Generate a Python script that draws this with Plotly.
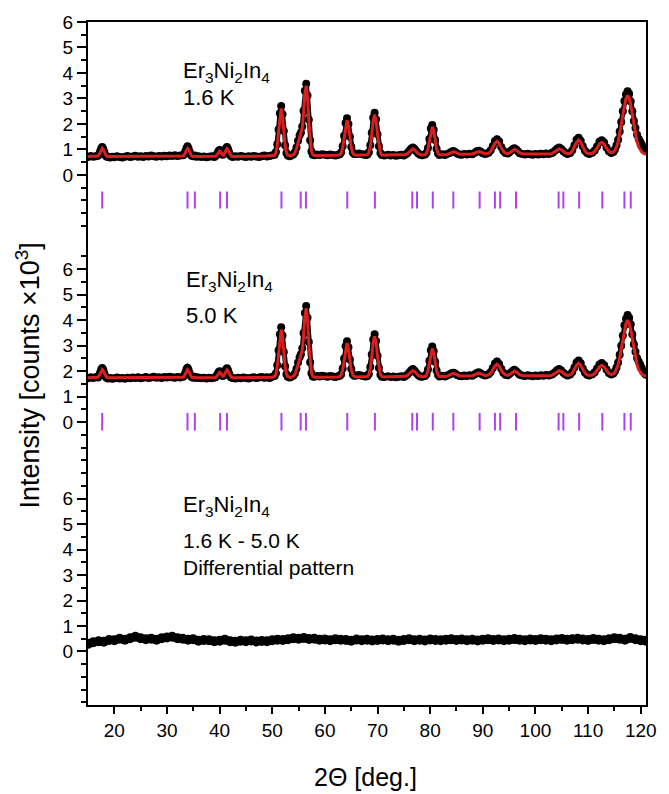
import plotly.graph_objects as go

# ---------------- data ----------------
two_theta = [
    15.0, 15.5, 16.0, 16.5, 16.9, 17.1, 17.3, 17.5, 17.7, 17.9,
    18.1, 18.3, 18.5, 18.8, 19.2, 19.6, 20.0, 20.5, 21.0, 21.5,
    22.0, 22.5, 23.0, 23.5, 24.0, 24.5, 25.0, 25.5, 26.0, 26.5,
    27.0, 27.5, 28.0, 28.5, 29.0, 29.5, 30.0, 30.5, 31.0, 31.5,
    32.0, 32.5, 33.1, 33.3, 33.5, 33.7, 33.9, 34.1, 34.3, 34.5,
    34.7, 35.0, 35.3, 35.6, 36.0, 36.5, 37.0, 37.5, 38.0, 38.5,
    39.0, 39.2, 39.4, 39.6, 39.8, 40.0, 40.2, 40.4, 40.6, 40.8,
    41.0, 41.2, 41.4, 41.6, 41.8, 42.0, 42.2, 42.5, 43.0, 43.5,
    44.0, 44.5, 45.0, 45.5, 46.0, 46.5, 47.0, 47.5, 48.0, 48.5,
    49.0, 49.5, 50.0, 50.45, 50.7, 50.95, 51.2, 51.45, 51.7, 51.95,
    52.2, 52.45, 52.7, 52.95, 53.3, 53.6, 54.0, 54.3, 54.6, 54.9,
    55.2, 55.45, 55.7, 55.95, 56.2, 56.45, 56.7, 56.95, 57.2, 57.45,
    57.7, 58.0, 58.5, 59.0, 59.5, 60.0, 60.5, 61.0, 61.5, 62.0,
    62.5, 62.83, 63.1, 63.38, 63.65, 63.93, 64.2, 64.47, 64.75, 65.02,
    65.3, 65.57, 66.0, 66.5, 67.0, 67.5, 67.8, 68.08, 68.35, 68.63,
    68.9, 69.18, 69.45, 69.72, 70.0, 70.27, 70.55, 70.82, 71.3, 72.0,
    72.5, 73.0, 73.5, 74.0, 74.5, 75.0, 75.3, 75.65, 76.0, 76.35,
    76.7, 77.05, 77.4, 77.75, 78.1, 78.5, 79.03, 79.3, 79.58, 79.85,
    80.13, 80.4, 80.67, 80.95, 81.22, 81.5, 81.77, 82.3, 82.8, 83.2,
    83.7, 84.05, 84.4, 84.75, 85.1, 85.6, 86.0, 86.5, 87.0, 87.5,
    88.0, 88.5, 88.85, 89.2, 89.55, 89.9, 90.4, 90.7, 91.1, 91.5,
    91.9, 92.3, 92.7, 93.1, 93.5, 93.9, 94.3, 94.7, 95.0, 95.3,
    95.65, 96.0, 96.35, 96.7, 97.0, 97.5, 98.0, 98.5, 99.0, 99.5,
    100.0, 100.5, 101.0, 101.5, 102.0, 102.5, 103.0, 103.3, 103.7, 104.1,
    104.5, 104.9, 105.3, 105.7, 106.1, 106.6, 107.0, 107.4, 107.8, 108.2,
    108.6, 109.0, 109.4, 109.8, 110.2, 110.8, 111.25, 111.7, 112.15, 112.6,
    113.05, 113.5, 113.95, 114.4, 114.8, 115.1, 115.4, 115.7, 116.0, 116.3,
    116.6, 116.9, 117.2, 117.5, 117.8, 118.1, 118.4, 118.7, 119.0, 119.3,
    119.6, 119.9, 120.2, 120.5, 120.8, 121.0,
]

calc_16K = [
    0.72, 0.72, 0.72, 0.72, 0.74, 0.79, 0.88, 0.99, 1.04, 0.99,
    0.88, 0.79, 0.74, 0.72, 0.72, 0.72, 0.72, 0.72, 0.72, 0.72,
    0.72, 0.72, 0.72, 0.72, 0.72, 0.72, 0.72, 0.72, 0.72, 0.72,
    0.72, 0.72, 0.72, 0.72, 0.72, 0.72, 0.72, 0.72, 0.72, 0.72,
    0.72, 0.72, 0.74, 0.79, 0.88, 0.99, 1.04, 0.99, 0.88, 0.79,
    0.74, 0.72, 0.74, 0.72, 0.72, 0.72, 0.72, 0.72, 0.72, 0.72,
    0.72, 0.73, 0.76, 0.83, 0.90, 0.93, 0.90, 0.83, 0.78, 0.80,
    0.88, 0.98, 1.03, 0.98, 0.88, 0.79, 0.74, 0.72, 0.72, 0.72,
    0.72, 0.72, 0.72, 0.72, 0.72, 0.73, 0.73, 0.73, 0.74, 0.74,
    0.74, 0.75, 0.75, 0.77, 0.87, 1.14, 1.68, 2.31, 2.61, 2.31,
    1.68, 1.14, 0.87, 0.77, 0.75, 0.75, 0.79, 0.86, 1.03, 1.27,
    1.48, 1.60, 1.84, 2.42, 3.18, 3.50, 3.05, 2.11, 1.33, 0.93,
    0.80, 0.76, 0.76, 0.76, 0.76, 0.77, 0.77, 0.77, 0.77, 0.77,
    0.77, 0.79, 0.86, 1.07, 1.46, 1.94, 2.15, 1.94, 1.46, 1.07,
    0.86, 0.79, 0.77, 0.77, 0.77, 0.77, 0.77, 0.79, 0.87, 1.11,
    1.57, 2.13, 2.37, 2.13, 1.57, 1.11, 0.87, 0.79, 0.77, 0.78,
    0.78, 0.78, 0.78, 0.78, 0.78, 0.78, 0.80, 0.83, 0.90, 0.98,
    1.02, 0.98, 0.90, 0.83, 0.80, 0.78, 0.79, 0.85, 1.02, 1.34,
    1.72, 1.89, 1.72, 1.34, 1.02, 0.85, 0.79, 0.79, 0.80, 0.80,
    0.85, 0.89, 0.91, 0.89, 0.85, 0.81, 0.81, 0.81, 0.81, 0.81,
    0.82, 0.86, 0.90, 0.92, 0.90, 0.86, 0.83, 0.83, 0.85, 0.93,
    1.07, 1.24, 1.32, 1.24, 1.07, 0.93, 0.85, 0.83, 0.86, 0.91,
    0.97, 1.00, 0.97, 0.91, 0.86, 0.83, 0.82, 0.82, 0.82, 0.82,
    0.82, 0.82, 0.82, 0.82, 0.82, 0.82, 0.83, 0.86, 0.92, 0.99,
    1.02, 0.99, 0.92, 0.86, 0.83, 0.85, 0.94, 1.10, 1.28, 1.37,
    1.28, 1.10, 0.94, 0.85, 0.83, 0.85, 0.92, 1.05, 1.21, 1.28,
    1.21, 1.05, 0.92, 0.87, 0.90, 0.97, 1.10, 1.30, 1.60, 1.97,
    2.37, 2.75, 3.00, 3.12, 3.02, 2.75, 2.38, 1.97, 1.60, 1.30,
    1.10, 0.97, 0.90, 0.85, 0.82, 0.80,
]

obs_16K = [
    0.70, 0.74, 0.71, 0.73, 0.75, 0.81, 0.92, 1.04, 1.10, 1.03,
    0.90, 0.78, 0.72, 0.70, 0.68, 0.71, 0.69, 0.73, 0.70, 0.68,
    0.71, 0.74, 0.70, 0.72, 0.75, 0.71, 0.73, 0.70, 0.74, 0.72,
    0.76, 0.73, 0.71, 0.74, 0.72, 0.75, 0.73, 0.76, 0.74, 0.77,
    0.74, 0.76, 0.77, 0.83, 0.93, 1.05, 1.12, 1.04, 0.91, 0.80,
    0.75, 0.73, 0.76, 0.71, 0.73, 0.70, 0.72, 0.69, 0.71, 0.73,
    0.70, 0.74, 0.77, 0.86, 0.94, 0.98, 0.93, 0.84, 0.79, 0.82,
    0.92, 1.04, 1.10, 1.02, 0.90, 0.78, 0.73, 0.70, 0.73, 0.71,
    0.74, 0.72, 0.70, 0.73, 0.71, 0.74, 0.72, 0.70, 0.73, 0.76,
    0.72, 0.74, 0.77, 0.79, 0.90, 1.20, 1.78, 2.42, 2.70, 2.38,
    1.72, 1.16, 0.86, 0.76, 0.73, 0.76, 0.80, 0.89, 1.08, 1.34,
    1.56, 1.66, 1.90, 2.52, 3.30, 3.58, 3.12, 2.16, 1.36, 0.92,
    0.79, 0.77, 0.80, 0.78, 0.81, 0.79, 0.77, 0.80, 0.78, 0.76,
    0.79, 0.81, 0.89, 1.12, 1.54, 2.04, 2.22, 2.00, 1.50, 1.10,
    0.88, 0.82, 0.82, 0.84, 0.81, 0.80, 0.78, 0.80, 0.89, 1.16,
    1.65, 2.24, 2.44, 2.18, 1.60, 1.12, 0.86, 0.78, 0.76, 0.79,
    0.76, 0.78, 0.75, 0.77, 0.79, 0.76, 0.80, 0.85, 0.94, 1.03,
    1.08, 1.02, 0.92, 0.84, 0.79, 0.77, 0.80, 0.87, 1.06, 1.41,
    1.82, 1.96, 1.77, 1.37, 1.03, 0.84, 0.78, 0.81, 0.78, 0.82,
    0.86, 0.91, 0.94, 0.90, 0.84, 0.80, 0.79, 0.82, 0.80, 0.83,
    0.81, 0.87, 0.93, 0.95, 0.92, 0.86, 0.82, 0.84, 0.87, 0.97,
    1.13, 1.33, 1.40, 1.31, 1.10, 0.95, 0.86, 0.84, 0.88, 0.94,
    1.01, 1.05, 1.00, 0.92, 0.85, 0.82, 0.80, 0.83, 0.81, 0.79,
    0.82, 0.80, 0.83, 0.81, 0.84, 0.82, 0.85, 0.88, 0.95, 1.03,
    1.08, 1.02, 0.93, 0.86, 0.82, 0.86, 0.97, 1.16, 1.38, 1.46,
    1.34, 1.12, 0.95, 0.86, 0.82, 0.87, 0.96, 1.11, 1.30, 1.36,
    1.27, 1.08, 0.93, 0.86, 0.90, 1.00, 1.16, 1.38, 1.70, 2.08,
    2.50, 2.90, 3.16, 3.28, 3.18, 2.88, 2.50, 2.12, 1.84, 1.58,
    1.42, 1.30, 1.18, 1.06, 0.98, 0.95,
]

calc_50K = [
    1.74, 1.74, 1.74, 1.74, 1.76, 1.81, 1.90, 2.01, 2.06, 2.01,
    1.90, 1.81, 1.76, 1.74, 1.74, 1.74, 1.74, 1.74, 1.74, 1.74,
    1.74, 1.74, 1.74, 1.74, 1.74, 1.74, 1.74, 1.74, 1.74, 1.74,
    1.74, 1.74, 1.74, 1.74, 1.74, 1.74, 1.74, 1.74, 1.74, 1.74,
    1.74, 1.74, 1.76, 1.81, 1.90, 2.01, 2.06, 2.01, 1.90, 1.81,
    1.76, 1.74, 1.76, 1.74, 1.74, 1.74, 1.74, 1.74, 1.74, 1.74,
    1.74, 1.75, 1.78, 1.85, 1.92, 1.95, 1.92, 1.85, 1.80, 1.82,
    1.90, 2.00, 2.05, 2.00, 1.90, 1.81, 1.76, 1.74, 1.74, 1.74,
    1.74, 1.74, 1.74, 1.74, 1.74, 1.75, 1.75, 1.75, 1.76, 1.76,
    1.76, 1.76, 1.76, 1.79, 1.89, 2.17, 2.71, 3.34, 3.63, 3.34,
    2.71, 2.17, 1.89, 1.79, 1.76, 1.76, 1.80, 1.87, 2.04, 2.27,
    2.47, 2.59, 2.82, 3.40, 4.15, 4.47, 4.02, 3.09, 2.32, 1.93,
    1.80, 1.76, 1.76, 1.76, 1.76, 1.77, 1.77, 1.77, 1.77, 1.77,
    1.77, 1.79, 1.85, 2.05, 2.42, 2.88, 3.10, 2.88, 2.42, 2.05,
    1.85, 1.79, 1.77, 1.77, 1.77, 1.77, 1.77, 1.79, 1.87, 2.11,
    2.57, 3.13, 3.37, 3.13, 2.57, 2.11, 1.87, 1.79, 1.77, 1.78,
    1.78, 1.78, 1.78, 1.78, 1.78, 1.78, 1.80, 1.83, 1.90, 1.98,
    2.02, 1.98, 1.90, 1.83, 1.80, 1.78, 1.79, 1.85, 2.02, 2.34,
    2.72, 2.89, 2.72, 2.34, 2.02, 1.85, 1.79, 1.79, 1.80, 1.80,
    1.85, 1.89, 1.91, 1.89, 1.85, 1.81, 1.81, 1.81, 1.81, 1.81,
    1.82, 1.86, 1.90, 1.92, 1.90, 1.86, 1.83, 1.83, 1.85, 1.92,
    2.05, 2.20, 2.27, 2.20, 2.05, 1.92, 1.85, 1.83, 1.86, 1.91,
    1.97, 2.00, 1.97, 1.91, 1.86, 1.83, 1.82, 1.82, 1.82, 1.82,
    1.82, 1.82, 1.82, 1.82, 1.82, 1.82, 1.83, 1.86, 1.92, 1.99,
    2.02, 1.99, 1.92, 1.86, 1.83, 1.85, 1.93, 2.07, 2.23, 2.31,
    2.23, 2.07, 1.93, 1.85, 1.83, 1.85, 1.91, 2.03, 2.17, 2.23,
    2.17, 2.03, 1.91, 1.86, 1.89, 1.95, 2.07, 2.25, 2.53, 2.88,
    3.26, 3.63, 3.88, 4.00, 3.90, 3.63, 3.27, 2.88, 2.53, 2.25,
    2.06, 1.94, 1.88, 1.84, 1.82, 1.80,
]

obs_50K = [
    1.72, 1.76, 1.73, 1.77, 1.75, 1.83, 1.94, 2.06, 2.12, 2.05,
    1.92, 1.80, 1.74, 1.71, 1.73, 1.70, 1.72, 1.75, 1.71, 1.73,
    1.70, 1.74, 1.72, 1.75, 1.73, 1.76, 1.72, 1.74, 1.77, 1.73,
    1.75, 1.78, 1.74, 1.76, 1.73, 1.77, 1.75, 1.78, 1.76, 1.74,
    1.77, 1.75, 1.78, 1.84, 1.95, 2.07, 2.13, 2.05, 1.92, 1.82,
    1.77, 1.74, 1.78, 1.73, 1.75, 1.72, 1.74, 1.71, 1.74, 1.72,
    1.75, 1.76, 1.80, 1.88, 1.96, 2.00, 1.95, 1.86, 1.81, 1.84,
    1.94, 2.06, 2.11, 2.04, 1.91, 1.80, 1.75, 1.73, 1.71, 1.74,
    1.72, 1.75, 1.73, 1.71, 1.74, 1.76, 1.73, 1.75, 1.77, 1.74,
    1.76, 1.73, 1.78, 1.81, 1.92, 2.23, 2.82, 3.45, 3.72, 3.40,
    2.75, 2.19, 1.88, 1.78, 1.75, 1.78, 1.82, 1.91, 2.09, 2.34,
    2.55, 2.66, 2.90, 3.50, 4.28, 4.56, 4.10, 3.14, 2.35, 1.92,
    1.79, 1.78, 1.81, 1.79, 1.82, 1.80, 1.78, 1.81, 1.79, 1.77,
    1.80, 1.82, 1.88, 2.10, 2.50, 2.98, 3.17, 2.94, 2.46, 2.08,
    1.87, 1.82, 1.83, 1.85, 1.82, 1.80, 1.79, 1.81, 1.89, 2.16,
    2.65, 3.24, 3.45, 3.18, 2.60, 2.12, 1.86, 1.78, 1.77, 1.80,
    1.77, 1.79, 1.76, 1.78, 1.80, 1.77, 1.81, 1.86, 1.94, 2.03,
    2.08, 2.02, 1.92, 1.84, 1.79, 1.78, 1.81, 1.88, 2.06, 2.41,
    2.82, 2.97, 2.78, 2.37, 2.03, 1.85, 1.79, 1.82, 1.79, 1.83,
    1.87, 1.92, 1.94, 1.91, 1.85, 1.81, 1.80, 1.83, 1.81, 1.84,
    1.82, 1.88, 1.93, 1.96, 1.92, 1.87, 1.83, 1.85, 1.88, 1.97,
    2.12, 2.30, 2.38, 2.28, 2.09, 1.94, 1.86, 1.84, 1.88, 1.94,
    2.01, 2.05, 2.00, 1.93, 1.86, 1.83, 1.81, 1.84, 1.82, 1.80,
    1.83, 1.81, 1.84, 1.82, 1.85, 1.83, 1.86, 1.89, 1.96, 2.04,
    2.08, 2.03, 1.94, 1.87, 1.83, 1.87, 1.97, 2.14, 2.34, 2.42,
    2.31, 2.10, 1.95, 1.86, 1.83, 1.88, 1.96, 2.10, 2.26, 2.32,
    2.24, 2.06, 1.93, 1.87, 1.91, 2.00, 2.14, 2.34, 2.64, 3.00,
    3.40, 3.80, 4.06, 4.20, 4.10, 3.84, 3.45, 3.06, 2.76, 2.52,
    2.38, 2.26, 2.12, 1.98, 1.90, 1.86,
]

diff_theta = [
    15, 16, 17, 18, 19, 20, 21, 22, 23, 24,
    25, 26, 27, 28, 29, 30, 31, 32, 33, 34,
    35, 36, 37, 38, 39, 40, 41, 42, 43, 44,
    45, 46, 47, 48, 49, 50, 51, 52, 53, 54,
    55, 56, 57, 58, 59, 60, 61, 62, 63, 64,
    65, 66, 67, 68, 69, 70, 71, 72, 73, 74,
    75, 76, 77, 78, 79, 80, 81, 82, 83, 84,
    85, 86, 87, 88, 89, 90, 91, 92, 93, 94,
    95, 96, 97, 98, 99, 100, 101, 102, 103, 104,
    105, 106, 107, 108, 109, 110, 111, 112, 113, 114,
    115, 116, 117, 118, 119, 120, 121,
]

diff_vals = [
    0.30, 0.36, 0.40, 0.38, 0.45, 0.44, 0.50, 0.46, 0.52, 0.58,
    0.52, 0.48, 0.50, 0.46, 0.52, 0.55, 0.58, 0.52, 0.50, 0.46,
    0.48, 0.42, 0.45, 0.44, 0.40, 0.42, 0.46, 0.40, 0.38, 0.42,
    0.40, 0.43, 0.39, 0.41, 0.40, 0.44, 0.46, 0.45, 0.48, 0.52,
    0.50, 0.53, 0.49, 0.50, 0.46, 0.47, 0.44, 0.48, 0.46, 0.45,
    0.42, 0.47, 0.44, 0.46, 0.43, 0.45, 0.47, 0.44, 0.46, 0.42,
    0.45, 0.48, 0.44, 0.46, 0.43, 0.47, 0.45, 0.44, 0.46, 0.48,
    0.45, 0.47, 0.44, 0.46, 0.43, 0.46, 0.48, 0.45, 0.47, 0.44,
    0.46, 0.49, 0.46, 0.44, 0.47, 0.45, 0.48, 0.46, 0.44, 0.47,
    0.49, 0.46, 0.48, 0.50, 0.47, 0.45, 0.49, 0.46, 0.44, 0.48,
    0.52, 0.50, 0.46, 0.53, 0.48, 0.44, 0.42,
]

bragg_positions = [
    17.7, 33.9, 35.3, 40.1, 41.4, 51.75, 55.4, 56.4, 64.25, 69.5,
    76.6, 77.5, 80.5, 84.4, 89.4, 92.3, 93.3, 96.3, 104.4, 105.3,
    108.3, 112.7, 116.9, 118.1,
]

panel_tick_labels = ["0", "1", "2", "3", "4", "5", "6"]
x_tick_values = [20, 30, 40, 50, 60, 70, 80, 90, 100, 110, 120]

# ---------------- layout constants ----------------
OFF_TOP, OFF_MID, OFF_BOT = 18.7, 9.0, 0.0
W, H = 669, 794
ML, MR, MT, MB = 88, 17, 20, 89
FONT = "Liberation Sans, Arial, sans-serif"
RED = "#dc1e1e"
PURPLE = "#b040f2"


def px_x(px):
    return (px - ML) / (W - ML - MR)


def px_y(py):
    return (H - MB - py) / (H - MT - MB)


fig = go.Figure()


def add_pattern(obs, calc, off):
    fig.add_trace(go.Scatter(
        x=two_theta, y=[v + off for v in obs], mode="lines+markers",
        line=dict(color="black", width=5),
        marker=dict(color="black", size=8), hoverinfo="skip"))
    fig.add_trace(go.Scatter(
        x=two_theta, y=[v + off for v in calc], mode="lines",
        line=dict(color=RED, width=3), hoverinfo="skip"))


def add_bragg(off, lo, hi):
    xs, ys = [], []
    for p in bragg_positions:
        xs += [p, p, None]
        ys += [off + lo, off + hi, None]
    fig.add_trace(go.Scatter(x=xs, y=ys, mode="lines",
                             line=dict(color=PURPLE, width=2),
                             hoverinfo="skip"))


add_pattern(obs_16K, calc_16K, OFF_TOP)
add_bragg(OFF_TOP, -1.32, -0.65)
add_pattern(obs_50K, calc_50K, OFF_MID)
add_bragg(OFF_MID, -0.33, 0.36)

fig.add_trace(go.Scatter(
    x=diff_theta, y=[v + OFF_BOT for v in diff_vals], mode="lines+markers",
    line=dict(color="black", width=7), marker=dict(color="black", size=10),
    hoverinfo="skip"))

# y ticks
y_major, y_text = [], []
for off in (OFF_BOT, OFF_MID, OFF_TOP):
    for i, lab in enumerate(panel_tick_labels):
        y_major.append(off + i)
        y_text.append(lab)
y_minor = []
for off, kmax in ((OFF_BOT, 13), (OFF_MID, 13), (OFF_TOP, 12)):
    for k in range(-4, kmax + 1):
        if k % 2 == 0 and 0 <= k // 2 <= 6:
            continue
        y_minor.append(off + k * 0.5)

fig.update_layout(
    width=W, height=H,
    margin=dict(l=ML, r=MR, t=MT, b=MB),
    paper_bgcolor="white", plot_bgcolor="white",
    showlegend=False,
    font=dict(family=FONT, color="black", size=19),
    xaxis=dict(
        range=[15, 121], showgrid=False, zeroline=False,
        showline=True, linecolor="black", linewidth=2, mirror=True,
        ticks="outside", ticklen=7, tickwidth=2, tickcolor="black",
        tickmode="array", tickvals=x_tick_values,
        tickfont=dict(size=19, family=FONT),
        minor=dict(tickmode="array", tickvals=[25, 35, 45, 55, 65, 75, 85, 95, 105, 115],
                   ticks="outside", ticklen=4, tickwidth=2, tickcolor="black"),
    ),
    yaxis=dict(
        range=[-2.1, 24.7], showgrid=False, zeroline=False,
        showline=True, linecolor="black", linewidth=2, mirror=True,
        ticks="outside", ticklen=9, tickwidth=2, tickcolor="black",
        tickmode="array", tickvals=y_major, ticktext=y_text,
        tickfont=dict(size=19, family=FONT),
        minor=dict(tickmode="array", tickvals=y_minor,
                   ticks="outside", ticklen=5, tickwidth=1.5, tickcolor="black"),
    ),
)

ann = []


def label(text, px, py, size):
    ann.append(dict(text=text, xref="paper", yref="paper",
                    x=px_x(px), y=px_y(py), xanchor="left", yanchor="middle",
                    showarrow=False, font=dict(size=size, family=FONT, color="black")))


formula = "Er<sub>3</sub>Ni<sub>2</sub>In<sub>4</sub>"
label(formula, 182, 70, 22)
label("1.6 K", 182, 96, 22)
label(formula, 185, 280, 22)
label("5.0 K", 185, 314, 22)
label(formula, 182, 505, 22)
label("1.6 K - 5.0 K", 182, 540, 21)
label("Differential pattern", 182, 567, 21)

ann.append(dict(text="Intensity [counts ×10<sup>3</sup>]", xref="paper", yref="paper",
                x=px_x(27), y=px_y(375), xanchor="center", yanchor="middle",
                textangle=-90, showarrow=False,
                font=dict(size=27, family=FONT, color="black")))
ann.append(dict(text="2Θ [deg.]", xref="paper", yref="paper",
                x=px_x(368), y=px_y(777), xanchor="center", yanchor="middle",
                showarrow=False, font=dict(size=25, family=FONT, color="black")))

fig.update_layout(annotations=ann)
fig.write_html("out.html")
